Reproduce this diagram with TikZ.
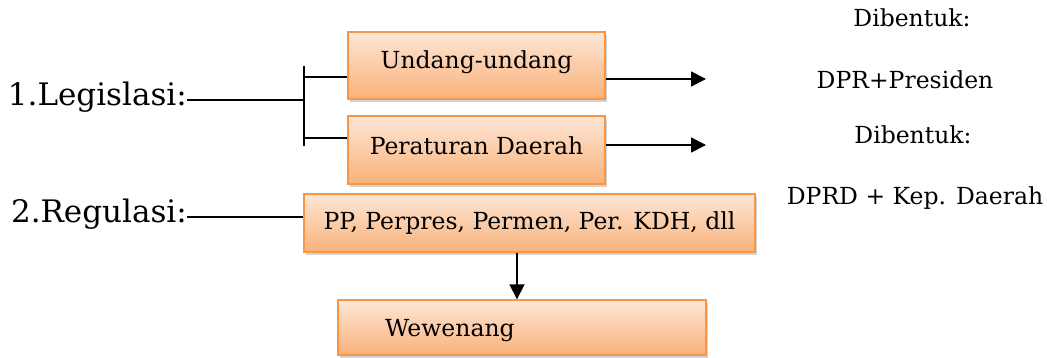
\documentclass[tikz,border=0pt]{standalone}
\usepackage{fontspec}
\setmainfont{DejaVu Serif}
\usetikzlibrary{shadows,arrows.meta}
\definecolor{boxedge}{HTML}{F79646}
\definecolor{boxtop}{HTML}{FDE6D6}
\definecolor{boxbot}{HTML}{F9B27A}
\tikzset{
  obox/.style={draw=boxedge, line width=1.4pt, top color=boxtop, bottom color=boxbot,
    drop shadow={shadow xshift=2pt, shadow yshift=-3pt, opacity=0.35},
    minimum width=#1, inner sep=0pt},
  boxtxt/.style={font=\fontsize{23.5}{27}\selectfont},
  bigtxt/.style={font=\fontsize{31}{36}\selectfont, inner sep=0pt},
  conn/.style={line width=1.8pt, black},
  arr/.style={conn, -{Triangle[length=15pt,width=15pt]}},
}
\begin{document}
\begin{tikzpicture}[x=1pt,y=-1pt]
\useasboundingbox (0,0) rectangle (1047,358);
% boxes
\node[obox=257pt, minimum height=67pt, boxtxt] (uu) at (476.5,65.5) {\raisebox{12pt}{Undang-undang}};
\node[obox=257pt, minimum height=68pt, boxtxt] (pd) at (476.5,150) {\raisebox{8pt}{Peraturan Daerah}};
\node[obox=451pt, minimum height=58pt, boxtxt] (pp) at (529.5,223) {\raisebox{5pt}{PP, Perpres, Permen, Per. KDH, dll}};
\node[obox=368pt, minimum height=55pt] (ww) at (522,327.5) {};
\node[boxtxt, anchor=west, inner sep=0pt] (wwt) at (385,331) {Wewenang};
% left labels
\node[bigtxt, anchor=east] (leg) at (187,97) {1.Legislasi:};
\node[bigtxt, anchor=east] (reg) at (187,214) {2.Regulasi:};
% bracket
\coordinate (bt) at (304,66);
\coordinate (bb) at (304,146);
\coordinate (bm) at (304,100);
\coordinate (b1) at (304,77);
\coordinate (b2) at (304,138);
\draw[conn] (bt) -- (bb);
\draw[conn] (leg.east |- bm) -- (bm);
\draw[conn] (b1) -- (b1 -| uu.west);
\draw[conn] (b2) -- (b2 -| pd.west);
\draw[conn] (reg.east |- 0,217) -- (pp.west |- 0,217);
% arrows right
\coordinate (a1) at (706,79);
\coordinate (a2) at (706,145);
\draw[arr] (uu.east |- a1) -- (a1);
\draw[arr] (pd.east |- a2) -- (a2);
\draw[arr] (pp.south -| 517,0) -- (ww.north -| 517,0);
% right texts
\node[boxtxt] (d1) at (912,18) {Dibentuk:};
\node[boxtxt] (d2) at (905,80) {DPR+Presiden};
\node[boxtxt] (d3) at (913,135) {Dibentuk:};
\node[boxtxt] (d4) at (915,198) {DPRD + Kep. Daerah};
\end{tikzpicture}
\end{document}
